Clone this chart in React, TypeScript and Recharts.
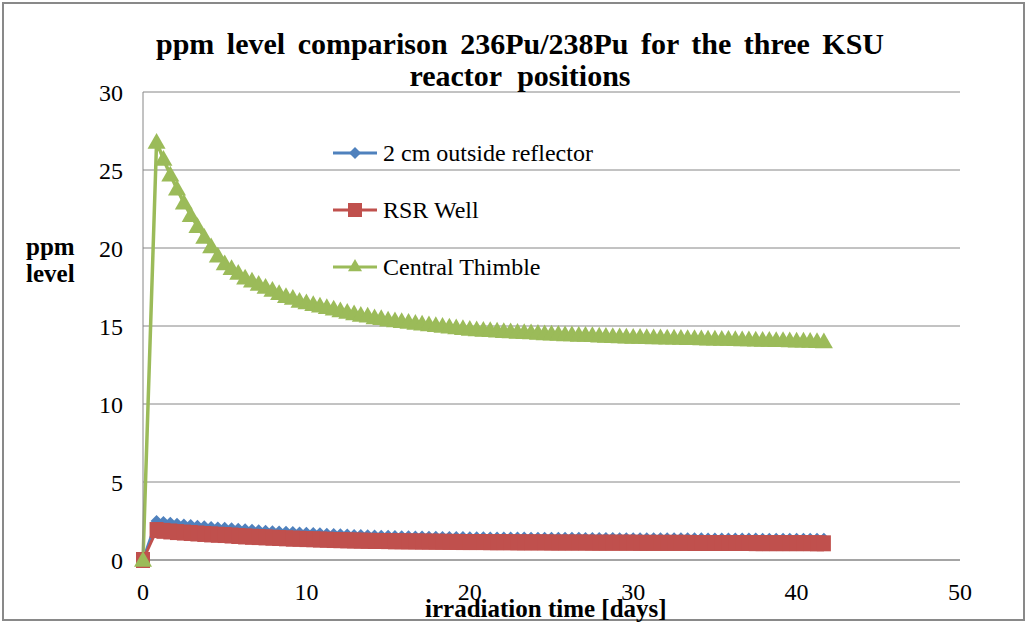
import React from "react";
import { CartesianGrid, Line, LineChart, XAxis, YAxis } from "recharts";

// irradiation time in days (10 hour steps)
const days = [
  0, 0.83, 1.25, 1.67, 2.08, 2.5, 2.92, 3.33, 3.75, 4.17, 4.58, 5, 5.42, 5.83, 6.25, 6.67, 7.08, 7.5, 7.92,
  8.33, 8.75, 9.17, 9.58, 10, 10.42, 10.83, 11.25, 11.67, 12.08, 12.5, 12.92, 13.33, 13.75, 14.17, 14.58,
  15, 15.42, 15.83, 16.25, 16.67, 17.08, 17.5, 17.92, 18.33, 18.75, 19.17, 19.58, 20, 20.42, 20.83, 21.25,
  21.67, 22.08, 22.5, 22.92, 23.33, 23.75, 24.17, 24.58, 25, 25.42, 25.83, 26.25, 26.67, 27.08, 27.5, 27.92,
  28.33, 28.75, 29.17, 29.58, 30, 30.42, 30.83, 31.25, 31.67, 32.08, 32.5, 32.92, 33.33, 33.75, 34.17, 34.58,
  35, 35.42, 35.83, 36.25, 36.67, 37.08, 37.5, 37.92, 38.33, 38.75, 39.17, 39.58, 40, 40.42, 40.83, 41.25, 41.67,
];

const outsideReflector = [
  0, 2.5, 2.44, 2.38, 2.33, 2.28, 2.24, 2.2, 2.16, 2.12, 2.09, 2.06, 2.03, 2.0, 1.97, 1.94, 1.91, 1.88, 1.85,
  1.83, 1.81, 1.79, 1.77, 1.75, 1.73, 1.71, 1.69, 1.67, 1.65, 1.63, 1.61, 1.6, 1.58, 1.57, 1.56, 1.55, 1.54,
  1.53, 1.52, 1.51, 1.5, 1.49, 1.49, 1.48, 1.48, 1.47, 1.47, 1.46, 1.46, 1.46, 1.45, 1.45, 1.45, 1.44, 1.44,
  1.44, 1.43, 1.43, 1.43, 1.43, 1.42, 1.42, 1.42, 1.42, 1.41, 1.41, 1.41, 1.41, 1.41, 1.4, 1.4, 1.4, 1.4, 1.4,
  1.4, 1.39, 1.39, 1.39, 1.39, 1.39, 1.39, 1.39, 1.38, 1.38, 1.38, 1.38, 1.38, 1.38, 1.38, 1.38, 1.37, 1.37,
  1.37, 1.37, 1.37, 1.37, 1.37, 1.37, 1.36, 1.36,
];

const rsrWell = [
  0, 1.92, 1.87, 1.83, 1.79, 1.76, 1.73, 1.7, 1.67, 1.64, 1.62, 1.6, 1.57, 1.54, 1.51, 1.49, 1.47, 1.45, 1.43,
  1.41, 1.39, 1.37, 1.36, 1.34, 1.33, 1.31, 1.3, 1.28, 1.27, 1.26, 1.25, 1.24, 1.23, 1.22, 1.22, 1.21, 1.2,
  1.2, 1.19, 1.19, 1.18, 1.18, 1.17, 1.17, 1.16, 1.16, 1.15, 1.15, 1.15, 1.15, 1.14, 1.14, 1.14, 1.14, 1.13,
  1.13, 1.13, 1.13, 1.13, 1.12, 1.12, 1.12, 1.12, 1.12, 1.12, 1.11, 1.11, 1.11, 1.11, 1.11, 1.11, 1.11, 1.1,
  1.1, 1.1, 1.1, 1.1, 1.1, 1.1, 1.1, 1.09, 1.09, 1.09, 1.09, 1.09, 1.09, 1.09, 1.09, 1.09, 1.08, 1.08, 1.08,
  1.08, 1.08, 1.08, 1.08, 1.08, 1.08, 1.07, 1.07,
];

const centralThimble = [
  0, 26.8, 25.7, 24.7, 23.8, 22.9, 22.1, 21.4, 20.7, 20.1, 19.5, 19.0, 18.7, 18.4, 18.1, 17.9, 17.7, 17.5,
  17.3, 17.1, 16.9, 16.8, 16.6, 16.5, 16.4, 16.3, 16.2, 16.1, 16.0, 15.9, 15.8, 15.7, 15.65, 15.55, 15.5,
  15.4, 15.35, 15.3, 15.25, 15.2, 15.15, 15.1, 15.05, 15.0, 14.95, 14.9, 14.85, 14.8, 14.78, 14.75, 14.72,
  14.7, 14.67, 14.65, 14.62, 14.6, 14.58, 14.55, 14.52, 14.5, 14.48, 14.46, 14.45, 14.43, 14.42, 14.4,
  14.38, 14.36, 14.35, 14.33, 14.31, 14.3, 14.29, 14.28, 14.27, 14.26, 14.25, 14.24, 14.23, 14.22, 14.21,
  14.2, 14.19, 14.18, 14.17, 14.16, 14.15, 14.14, 14.13, 14.12, 14.11, 14.1, 14.09, 14.08, 14.07, 14.06,
  14.05, 14.04, 14.02, 14.0,
];

const xTicks = [0, 10, 20, 30, 40, 50];
const yTicks = [0, 5, 10, 15, 20, 25, 30];

const BLUE = "#4F81BD";
const RED = "#C0504D";
const GREEN = "#9BBB59";
const SERIF = '"Times New Roman", "Liberation Serif", Tinos';

const data = days.map((day, i) => ({
  day,
  outside: outsideReflector[i],
  rsr: rsrWell[i],
  central: centralThimble[i],
}));

function diamond(cx: number, cy: number, r: number) {
  return `${cx},${cy - r} ${cx + r},${cy} ${cx},${cy + r} ${cx - r},${cy}`;
}
function triangle(cx: number, cy: number, r: number) {
  return `${cx},${cy - r} ${cx + r},${cy + r * 0.75} ${cx - r},${cy + r * 0.75}`;
}

const DiamondDot = (p: any) => (
  <polygon key={`d${p.index}`} points={diamond(p.cx, p.cy, 6)} fill={BLUE} />
);
const SquareDot = (p: any) => (
  <rect key={`s${p.index}`} x={p.cx - 7} y={p.cy - 8} width={14} height={16} fill={RED} />
);
const TriangleDot = (p: any) => (
  <polygon key={`t${p.index}`} points={triangle(p.cx, p.cy, 9)} fill={GREEN} />
);

const legendItems = [
  { name: "2 cm outside reflector", color: BLUE, kind: "diamond" },
  { name: "RSR Well", color: RED, kind: "square" },
  { name: "Central Thimble", color: GREEN, kind: "triangle" },
];

const css = `
html body #root #ksu-chart, html body #root #ksu-chart *,
html body #root #ksu-chart svg text, html body #root #ksu-chart svg tspan {
  font-family: ${SERIF} !important;
}
`;

const abs = (left: number, top: number): React.CSSProperties => ({
  position: "absolute",
  left,
  top,
  whiteSpace: "pre",
  lineHeight: 1,
  color: "#000",
  fontFamily: SERIF,
});

export default function App() {
  return (
    <div id="ksu-chart" style={{ position: "absolute", left: 0, top: 0, width: 1026, height: 622, background: "#fff", fontFamily: SERIF }}>
      <style>{css}</style>
      <LineChart
        width={1026}
        height={622}
        data={data}
        margin={{ top: 92, right: 66, left: 83, bottom: 32 }}
      >
        <CartesianGrid vertical={false} stroke="#868686" strokeWidth={1} />
        <XAxis
          dataKey="day"
          type="number"
          domain={[0, 50]}
          ticks={xTicks}
          height={30}
          tickSize={0}
          tickMargin={23}
          axisLine={{ stroke: "#868686" }}
          tick={{ fill: "#000", fontSize: 24, fontFamily: SERIF }}
        />
        <YAxis
          type="number"
          domain={[0, 30]}
          ticks={yTicks}
          width={60}
          tickSize={0}
          tickMargin={20}
          axisLine={{ stroke: "#868686" }}
          tick={{ fill: "#000", fontSize: 24, fontFamily: SERIF }}
        />
        <Line
          dataKey="outside"
          stroke={BLUE}
          strokeWidth={3}
          dot={DiamondDot}
          isAnimationActive={false}
        />
        <Line dataKey="rsr" stroke={RED} strokeWidth={3} dot={SquareDot} isAnimationActive={false} />
        <Line
          dataKey="central"
          stroke={GREEN}
          strokeWidth={3.5}
          dot={TriangleDot}
          isAnimationActive={false}
        />
      </LineChart>
      <svg
        width={1026}
        height={622}
        style={{ position: "absolute", left: 0, top: 0, pointerEvents: "none" }}
      >
        <rect x={3} y={3} width={1021} height={617} fill="none" stroke="#898989" strokeWidth={2} />
        {legendItems.map((it, i) => {
          const cy = 153 + i * 57;
          return (
            <g key={it.name}>
              <line x1={333} x2={377} y1={cy} y2={cy} stroke={it.color} strokeWidth={3} />
              {it.kind === "diamond" && <polygon points={diamond(355, cy, 6)} fill={it.color} />}
              {it.kind === "square" && <rect x={348} y={cy - 7} width={14} height={14} fill={it.color} />}
              {it.kind === "triangle" && <polygon points={triangle(355, cy - 1, 7)} fill={it.color} />}
            </g>
          );
        })}
      </svg>
      <div style={{ ...abs(155, 29), width: 730, fontSize: 30, fontWeight: "bold", textAlign: "center", wordSpacing: 5 }}>
        ppm level comparison 236Pu/238Pu for the three KSU
      </div>
      <div style={{ ...abs(155, 61), width: 730, fontSize: 30, fontWeight: "bold", textAlign: "center", wordSpacing: 8 }}>
        reactor positions
      </div>
      <div style={{ ...abs(26, 234), fontSize: 25, fontWeight: "bold" }}>ppm</div>
      <div style={{ ...abs(26, 261), fontSize: 25, fontWeight: "bold" }}>level</div>
      <div style={{ ...abs(425, 596), fontSize: 25, fontWeight: "bold" }}>irradiation time [days]</div>
      {legendItems.map((it, i) => (
        <div key={it.name} style={{ ...abs(383, 141 + i * 57), fontSize: 24 }}>
          {it.name}
        </div>
      ))}
    </div>
  );
}
